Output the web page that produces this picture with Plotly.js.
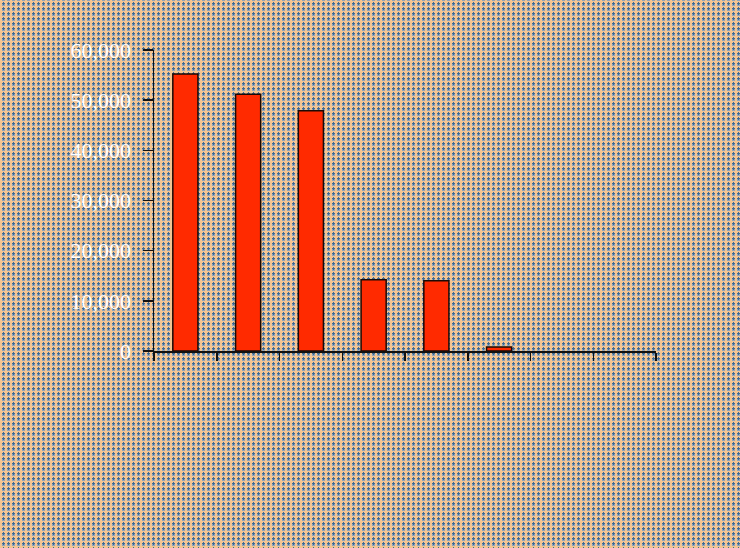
<!DOCTYPE html>
<html>
<head>
<meta charset="utf-8">
<script src="https://cdn.plot.ly/plotly-3.0.1.min.js"></script>
<style>
  html, body { margin: 0; padding: 0; }
  body {
    width: 740px; height: 548px; overflow: hidden;
    background-color: #8fa3b8;
    background-image:
      radial-gradient(circle at 3.5px 3.5px, #3f6a94 0px, #3f6a94 1px, transparent 1.2px),
      repeating-linear-gradient(90deg, #f2c594 0px, #f2c594 2px, transparent 2px, transparent 5px),
      repeating-linear-gradient(0deg, #f2c594 0px, #f2c594 2px, transparent 2px, transparent 5px);
    background-size: 5px 5px, auto, auto;
  }
  #chart { width: 740px; height: 548px; }
</style>
</head>
<body>
<div id="chart"></div>
<script>
const categories = ["C1", "C2", "C3", "C4", "C5", "C6", "C7", "C8"];
const values = [55200, 51200, 47900, 14200, 14000, 800, 0, 0];
const yTickValues = [0, 10000, 20000, 30000, 40000, 50000, 60000];

const trace = {
  type: "bar",
  x: categories,
  y: values,
  width: 0.4,
  marker: {
    color: "#ff2a00",
    line: { color: "#1a0a05", width: values.map(v => (v > 0 ? 1.5 : 0)) }
  },
  hoverinfo: "none"
};

const layout = {
  width: 740, height: 548,
  margin: { l: 154, r: 84, t: 50, b: 197 },
  paper_bgcolor: "rgba(0,0,0,0)",
  plot_bgcolor: "rgba(0,0,0,0)",
  showlegend: false,
  bargap: 0.6,
  xaxis: {
    type: "category",
    showticklabels: false,
    showgrid: false,
    zeroline: false,
    showline: true,
    linecolor: "#111",
    linewidth: 1.5,
    ticks: "outside",
    tickson: "boundaries",
    ticklen: 8,
    tickwidth: 1.5,
    tickcolor: "#111"
  },
  yaxis: {
    range: [0, 60000],
    tickvals: yTickValues,
    tickformat: ",d",
    showgrid: false,
    zeroline: false,
    showline: true,
    linecolor: "#111",
    linewidth: 1.5,
    ticks: "outside",
    ticklen: 10,
    tickwidth: 1.5,
    tickcolor: "#111",
    ticklabelstandoff: 7,
    tickfont: { family: "Liberation Serif, Times New Roman, serif", size: 22, color: "#ffffff" }
  }
};

Plotly.newPlot("chart", [trace], layout, { staticPlot: true, displayModeBar: false });
</script>
</body>
</html>
